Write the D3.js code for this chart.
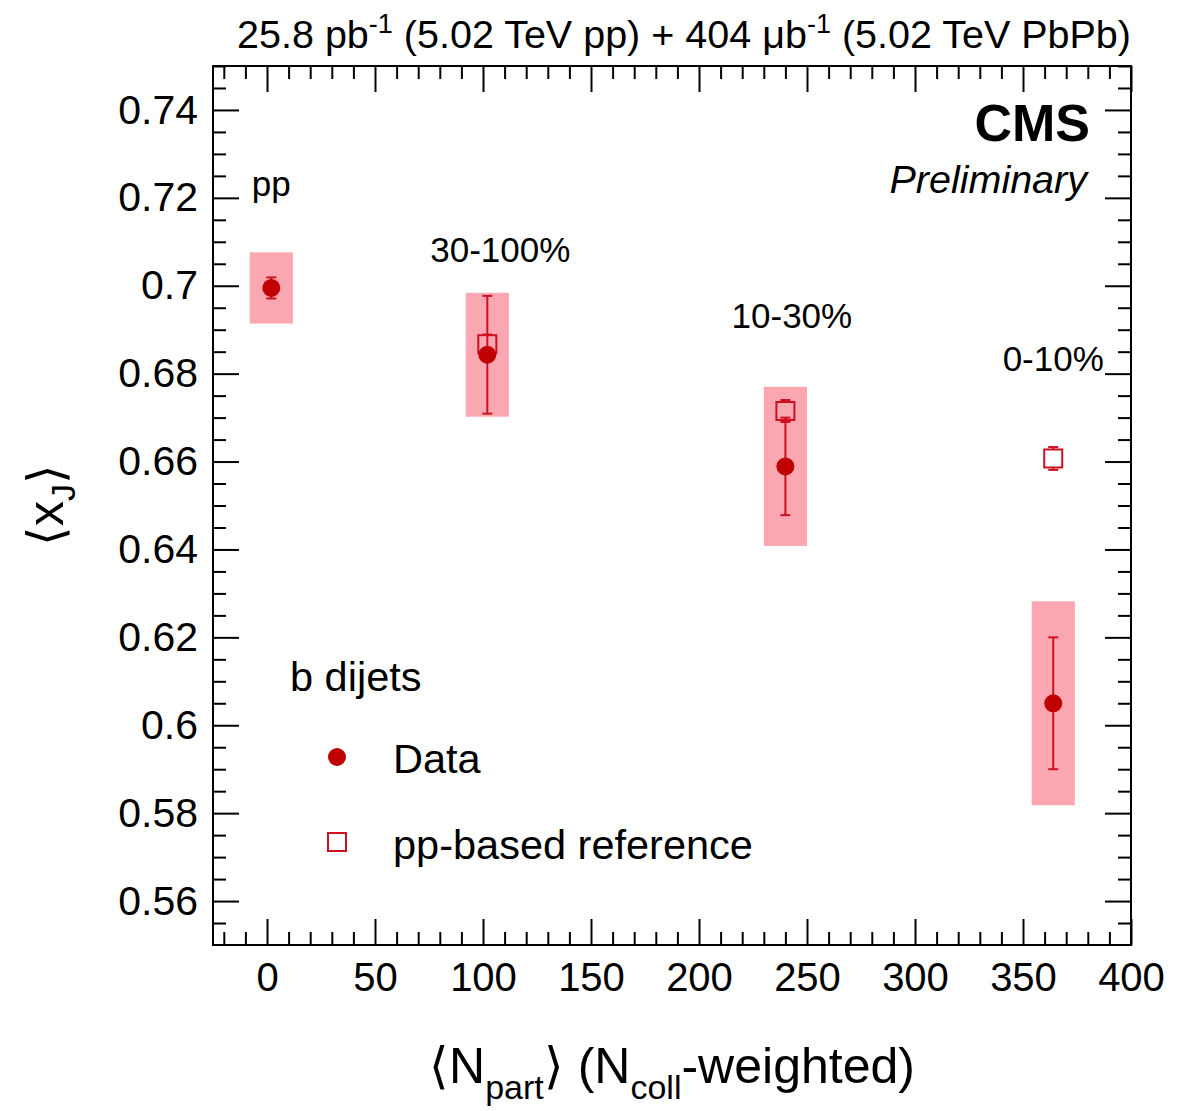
<!DOCTYPE html>
<html>
<head>
<meta charset="utf-8">
<script src="https://cdn.jsdelivr.net/npm/d3@7"></script>
<style>
  html, body { margin: 0; padding: 0; background: #fff; }
  svg { display: block; font-family: "Liberation Sans", Arial, Helvetica, sans-serif; }
</style>
</head>
<body>
<svg id="chart" width="1192" height="1111"></svg>
<script>
// ---------------- data ----------------
const categories   = ["pp", "30-100%", "10-30%", "0-10%"];
const nPart        = [2, 102, 240, 364];
const dataValues   = [0.6995, 0.6843, 0.6589, 0.6050];
const dataStat     = [0.0024, 0.0134, 0.0111, 0.0150];
const dataSyst     = [0.0081, 0.0141, 0.0181, 0.0232];
const refValues    = [null, 0.6867, 0.6715, 0.6607];
const refStat      = [null, 0.0022, 0.0025, 0.0026];
const xTickValues  = [0, 50, 100, 150, 200, 250, 300, 350, 400];
const yTickValues  = [0.56, 0.58, 0.60, 0.62, 0.64, 0.66, 0.68, 0.70, 0.72, 0.74];
const categoryLabelY = [0.7205, 0.7055, 0.6905, 0.6805];
const categoryLabelX = [2, 108, 243, 364];

// ---------------- layout ----------------
const svg = d3.select("#chart");
const L = 213, R = 1131, T = 66, B = 945;
const x = d3.scaleLinear().domain([-25, 400]).range([L, R]);
const y = d3.scaleLinear().domain([0.55, 0.75]).range([B, T]);

const markerColor = "#c00000";
const errColor = "#cc1020";
const boxColor = "#fba7b1";
const boxHalfWidth = 10; // in N_part units

// minor ticks
const xMinor = d3.range(-20, 401, 10).filter(v => !xTickValues.includes(v));
const yMinor = d3.range(0.555, 0.7501, 0.005).map(v => +v.toFixed(3))
  .filter(v => !yTickValues.some(t => Math.abs(t - v) < 1e-6));

const majorLen = 26, minorLen = 13;

function styleAxis(g) {
  g.select(".domain").remove();
  g.selectAll(".tick line").attr("stroke", "#000").attr("stroke-width", 2);
  g.selectAll(".tick text").attr("fill", "#000");
}

// bottom axis (labels)
svg.append("g").attr("transform", `translate(0,${B})`)
  .call(d3.axisBottom(x).tickValues(xTickValues).tickSize(-majorLen).tickPadding(18).tickFormat(d3.format("d")))
  .call(styleAxis)
  .call(g => g.selectAll(".tick text").attr("font-size", 40).attr("font-family", "Liberation Sans, Arial, sans-serif"));
svg.append("g").attr("transform", `translate(0,${B})`)
  .call(d3.axisBottom(x).tickValues(xMinor).tickSize(-minorLen).tickFormat(""))
  .call(styleAxis);
// top axis
svg.append("g").attr("transform", `translate(0,${T})`)
  .call(d3.axisTop(x).tickValues(xTickValues).tickSize(-majorLen).tickFormat(""))
  .call(styleAxis);
svg.append("g").attr("transform", `translate(0,${T})`)
  .call(d3.axisTop(x).tickValues(xMinor).tickSize(-minorLen).tickFormat(""))
  .call(styleAxis);
// left axis
svg.append("g").attr("transform", `translate(${L},0)`)
  .call(d3.axisLeft(y).tickValues(yTickValues).tickSize(-majorLen).tickPadding(15).tickFormat(d => String(+d.toFixed(2))))
  .call(styleAxis)
  .call(g => g.selectAll(".tick text").attr("font-size", 41).attr("font-family", "Liberation Sans, Arial, sans-serif"));
svg.append("g").attr("transform", `translate(${L},0)`)
  .call(d3.axisLeft(y).tickValues(yMinor).tickSize(-minorLen).tickFormat(""))
  .call(styleAxis);
// right axis
svg.append("g").attr("transform", `translate(${R},0)`)
  .call(d3.axisRight(y).tickValues(yTickValues).tickSize(-majorLen).tickFormat(""))
  .call(styleAxis);
svg.append("g").attr("transform", `translate(${R},0)`)
  .call(d3.axisRight(y).tickValues(yMinor).tickSize(-minorLen).tickFormat(""))
  .call(styleAxis);

// frame
svg.append("rect").attr("x", L).attr("y", T).attr("width", R - L).attr("height", B - T)
  .attr("fill", "none").attr("stroke", "#000").attr("stroke-width", 2);

// ---------------- marks ----------------
const pts = categories.map((c, i) => ({
  c, x: nPart[i], v: dataValues[i], stat: dataStat[i], syst: dataSyst[i],
  ref: refValues[i], refErr: refStat[i]
}));

// systematic boxes
svg.append("g").selectAll("rect").data(pts).join("rect")
  .attr("x", d => x(d.x - boxHalfWidth))
  .attr("width", d => x(d.x + boxHalfWidth) - x(d.x - boxHalfWidth))
  .attr("y", d => y(d.v + d.syst))
  .attr("height", d => y(d.v - d.syst) - y(d.v + d.syst))
  .attr("fill", boxColor);

// reference markers
const half = 9, cap = 5;
const refPts = pts.filter(d => d.ref != null);
const gRef = svg.append("g");
refPts.forEach(d => {
  const cx = x(d.x), cy = y(d.ref), top = y(d.ref + d.refErr), bot = y(d.ref - d.refErr);
  const g = gRef.append("g").attr("stroke", errColor).attr("stroke-width", 2).attr("fill", "none");
  if (top < cy - half) g.append("line").attr("x1", cx).attr("x2", cx).attr("y1", top).attr("y2", cy - half);
  if (bot > cy + half) g.append("line").attr("x1", cx).attr("x2", cx).attr("y1", cy + half).attr("y2", bot);
  g.append("line").attr("x1", cx - cap).attr("x2", cx + cap).attr("y1", top).attr("y2", top);
  g.append("line").attr("x1", cx - cap).attr("x2", cx + cap).attr("y1", bot).attr("y2", bot);
  g.append("rect").attr("x", cx - half).attr("y", cy - half).attr("width", 2 * half).attr("height", 2 * half);
});

// data markers
const gData = svg.append("g");
pts.forEach(d => {
  const cx = x(d.x), top = y(d.v + d.stat), bot = y(d.v - d.stat);
  const g = gData.append("g").attr("stroke", errColor).attr("stroke-width", 2);
  g.append("line").attr("x1", cx).attr("x2", cx).attr("y1", top).attr("y2", bot);
  g.append("line").attr("x1", cx - cap).attr("x2", cx + cap).attr("y1", top).attr("y2", top);
  g.append("line").attr("x1", cx - cap).attr("x2", cx + cap).attr("y1", bot).attr("y2", bot);
  gData.append("circle").attr("cx", cx).attr("cy", y(d.v)).attr("r", 9).attr("fill", markerColor);
});

// category labels
svg.append("g").selectAll("text").data(categories).join("text")
  .attr("x", (d, i) => x(categoryLabelX[i]))
  .attr("y", (d, i) => y(categoryLabelY[i]))
  .attr("text-anchor", "middle")
  .attr("font-size", 35)
  .text(d => d);

// ---------------- texts ----------------
// top luminosity title
const title = svg.append("text").attr("x", R).attr("y", 48).attr("text-anchor", "end").attr("font-size", 39.5);
title.append("tspan").text("25.8 pb");
title.append("tspan").attr("dy", -15).attr("font-size", 27).text("-1");
title.append("tspan").attr("dy", 15).text(" (5.02 TeV pp) + 404 \u03bcb");
title.append("tspan").attr("dy", -15).attr("font-size", 27).text("-1");
title.append("tspan").attr("dy", 15).text(" (5.02 TeV PbPb)");

// CMS Preliminary
svg.append("text").attr("x", 1090).attr("y", 141).attr("text-anchor", "end")
  .attr("font-size", 52).attr("font-weight", "bold").text("CMS");
svg.append("text").attr("x", 1087).attr("y", 193).attr("text-anchor", "end")
  .attr("font-size", 39.5).attr("font-style", "italic").text("Preliminary");

// legend
svg.append("text").attr("x", 290).attr("y", 691).attr("font-size", 41.5).text("b dijets");
svg.append("circle").attr("cx", 337).attr("cy", 757).attr("r", 9).attr("fill", markerColor);
svg.append("text").attr("x", 393).attr("y", 773).attr("font-size", 41.5).text("Data");
svg.append("rect").attr("x", 328).attr("y", 833).attr("width", 18).attr("height", 18)
  .attr("fill", "none").attr("stroke", errColor).attr("stroke-width", 2);
svg.append("text").attr("x", 393).attr("y", 859).attr("font-size", 41.5).text("pp-based reference");

// x axis title
const xt = svg.append("text").attr("x", 672).attr("y", 1083).attr("text-anchor", "middle").attr("font-size", 50);
xt.append("tspan").text("\u27e8N");
xt.append("tspan").attr("dy", 16).attr("font-size", 34).text("part");
xt.append("tspan").attr("dy", -16).text("\u27e9 (N");
xt.append("tspan").attr("dy", 16).attr("font-size", 34).text("coll");
xt.append("tspan").attr("dy", -16).text("-weighted)");

// y axis title
const yt = svg.append("text").attr("transform", "translate(63,505) rotate(-90)")
  .attr("text-anchor", "middle").attr("font-size", 50);
yt.append("tspan").text("\u27e8x");
yt.append("tspan").attr("dy", 12).attr("font-size", 34).text("J");
yt.append("tspan").attr("dy", -12).text("\u27e9");
</script>
</body>
</html>
